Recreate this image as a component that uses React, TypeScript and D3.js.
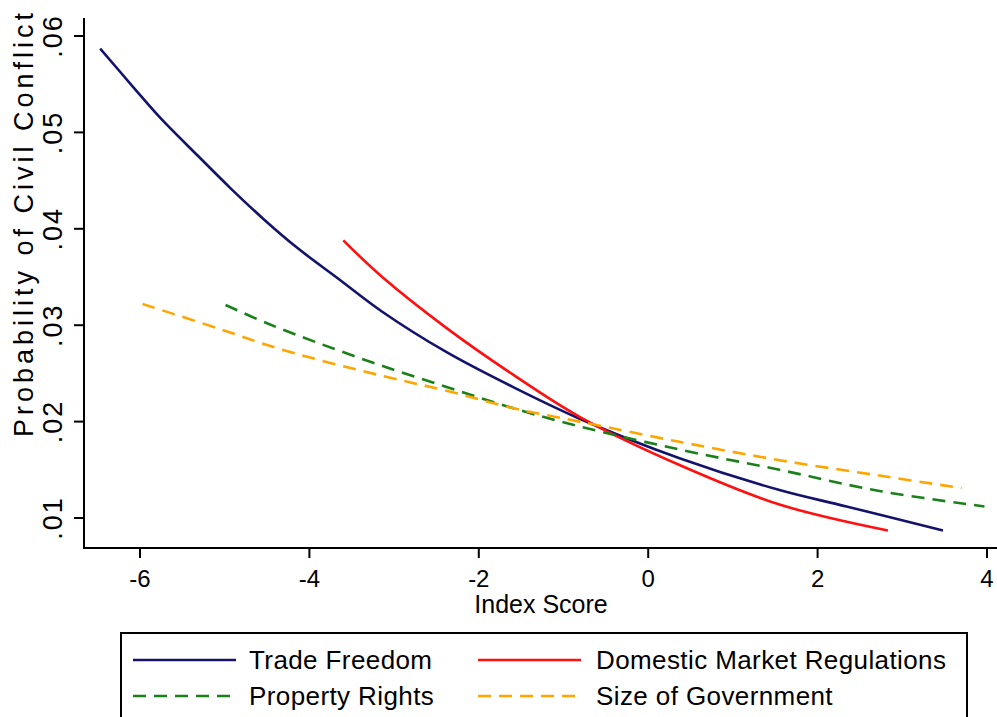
import React from "react";
import * as d3 from "d3";

const WIDTH = 997;
const HEIGHT = 717;

// values
const tradeX = [-6.47, -6.07, -5.76, -5.32, -4.93, -4.54, -4.14, -3.67, -3.14, -2.38, -1.6, -0.81, 0.37, 1.55, 2.34, 3.48];
const tradeY = [0.0587, 0.0546, 0.0515, 0.0476, 0.0442, 0.041, 0.038, 0.0349, 0.0314, 0.0272, 0.0236, 0.0203, 0.0162, 0.0129, 0.0112, 0.0087];

const domesticX = [-3.6, -3.14, -2.38, -1.6, -0.81, 0.37, 1.55, 2.83];
const domesticY = [0.0388, 0.035, 0.0297, 0.0249, 0.0205, 0.0155, 0.0114, 0.0087];

const propertyX = [-4.99, -4.5, -3.91, -3.18, -2.38, -1.6, -0.81, 0.37, 1.55, 2.73, 3.97];
const propertyY = [0.0321, 0.0302, 0.0282, 0.0259, 0.0236, 0.0214, 0.0195, 0.0171, 0.015, 0.0128, 0.0112];

const govX = [-5.97, -5.09, -4.3, -3.12, -2.38, -1.6, -0.81, 0.37, 1.55, 2.73, 3.7];
const govY = [0.0322, 0.0297, 0.0274, 0.0247, 0.0232, 0.0214, 0.02, 0.0179, 0.016, 0.0144, 0.0131];

const xTicks = [-6, -4, -2, 0, 2, 4];
const yTicks = [0.01, 0.02, 0.03, 0.04, 0.05, 0.06];
const yTickLabels = [".01", ".02", ".03", ".04", ".05", ".06"];

const seriesNames = ["Trade Freedom", "Domestic Market Regulations", "Property Rights", "Size of Government"];
const seriesColors = ["#14136b", "#ff1010", "#1a801a", "#ffa500"];
const seriesDash = [null, null, "13 8", "13 8"];

const FONT = "'Liberation Sans', Arial, sans-serif";

export default function App() {
  const x = d3.scaleLinear().domain([-6, 4]).range([140, 987]);
  const y = d3.scaleLinear().domain([0.01, 0.06]).range([518, 36]);

  const axisLeft = 84;
  const axisBottom = 548;

  const line = d3
    .line<[number, number]>()
    .x((d) => x(d[0]))
    .y((d) => y(d[1]))
    .curve(d3.curveCatmullRom.alpha(0.5));

  const series = [
    d3.zip(tradeX, tradeY),
    d3.zip(domesticX, domesticY),
    d3.zip(propertyX, propertyY),
    d3.zip(govX, govY),
  ] as [number, number][][];

  // legend layout: two columns, two rows
  const legendCols = [133, 478];
  const legendRows = [660, 696];

  return (
    <svg
      width={WIDTH}
      height={HEIGHT}
      style={{ position: "absolute", left: 0, top: 0, background: "#fff" }}
      fontFamily={FONT}
    >
      <rect width={WIDTH} height={HEIGHT} fill="#fff" />

      {series.map((s, i) => (
        <path
          key={seriesNames[i]}
          d={line(s) || ""}
          fill="none"
          stroke={seriesColors[i]}
          strokeWidth={2.6}
          strokeDasharray={seriesDash[i] || undefined}
        />
      ))}

      {/* y axis */}
      <line x1={axisLeft} x2={axisLeft} y1={18} y2={axisBottom + 1} stroke="#000" strokeWidth={2} />
      {yTicks.map((t, i) => (
        <g key={t}>
          <line x1={axisLeft - 10} x2={axisLeft} y1={y(t)} y2={y(t)} stroke="#000" strokeWidth={2} />
          <text
            transform={`translate(62,${y(t)}) rotate(-90)`}
            textAnchor="middle"
            fontSize={27}
            letterSpacing={2}
          >
            {yTickLabels[i]}
          </text>
        </g>
      ))}
      <text
        transform={`translate(33,223) rotate(-90)`}
        textAnchor="middle"
        fontSize={27}
        letterSpacing={4}
      >
        Probability of Civil Conflict
      </text>

      {/* x axis */}
      <line x1={axisLeft - 1} x2={WIDTH} y1={axisBottom} y2={axisBottom} stroke="#000" strokeWidth={2} />
      {xTicks.map((t) => (
        <g key={t}>
          <line x1={x(t)} x2={x(t)} y1={axisBottom} y2={axisBottom + 10} stroke="#000" strokeWidth={2} />
          <text x={x(t)} y={587} textAnchor="middle" fontSize={24}>
            {t}
          </text>
        </g>
      ))}
      <text x={541} y={613} textAnchor="middle" fontSize={25}>
        Index Score
      </text>

      {/* legend */}
      <rect x={121} y={633} width={846} height={100} fill="none" stroke="#000" strokeWidth={2} />
      {seriesNames.map((name, i) => {
        const cx = legendCols[i % 2];
        const cy = legendRows[Math.floor(i / 2)];
        return (
          <g key={name}>
            <line
              x1={cx}
              x2={cx + 103}
              y1={cy}
              y2={cy}
              stroke={seriesColors[i]}
              strokeWidth={2.6}
              strokeDasharray={seriesDash[i] || undefined}
            />
            <text
              x={cx + (i % 2 === 0 ? 116 : 118)}
              y={cy + 9}
              fontSize={26}
              letterSpacing={0.4}
            >
              {name}
            </text>
          </g>
        );
      })}
    </svg>
  );
}
